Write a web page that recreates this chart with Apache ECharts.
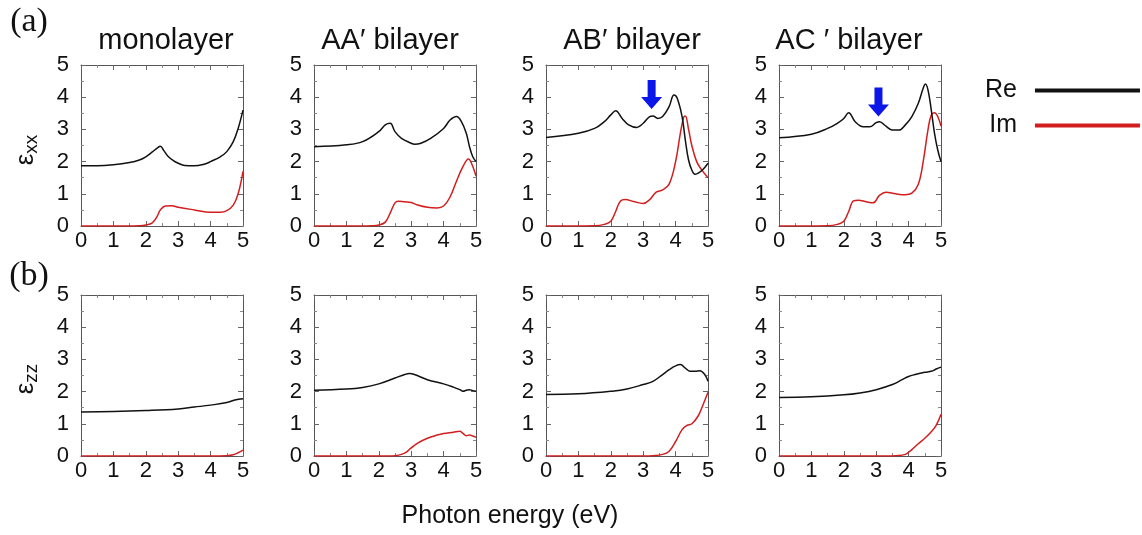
<!DOCTYPE html>
<html>
<head>
<meta charset="utf-8">
<title>dielectric function</title>
<script src="https://cdn.jsdelivr.net/npm/echarts@6/dist/echarts.min.js"></script>
<style>
    html, body { margin: 0; padding: 0; background: #fff; }
    #chart { width: 1142px; height: 535px; }
</style>
</head>
<body>
<div id="chart"></div>
<script>
// panel titles and tick labels
const panelTitles = ['monolayer', 'AA\u2032 bilayer', 'AB\u2032 bilayer', 'AC \u2032 bilayer'];
const tickValues = [0, 1, 2, 3, 4, 5];

// eps_xx, [photon energy (eV), value]
const monoXX_re = [[0,1.87],[0.5,1.87],[1,1.9],[1.5,1.97],[1.8,2.05],[2,2.15],[2.2,2.3],[2.35,2.42],[2.45,2.48],[2.55,2.35],[2.7,2.15],[2.85,2.03],[3,1.95],[3.2,1.88],[3.5,1.87],[3.8,1.92],[4,2.0],[4.3,2.15],[4.5,2.31],[4.7,2.62],[4.85,3.03],[5,3.6]];
const monoXX_im = [[0,0],[1,0],[1.8,0.01],[2,0.03],[2.2,0.1],[2.35,0.3],[2.45,0.5],[2.6,0.62],[2.8,0.63],[3,0.58],[3.5,0.5],[4,0.43],[4.3,0.43],[4.5,0.48],[4.7,0.65],[4.85,1.0],[5,1.7]];
const aaXX_re = [[0,2.46],[1,2.52],[1.5,2.62],[2,2.93],[2.2,3.14],[2.35,3.19],[2.5,2.93],[2.7,2.72],[3,2.57],[3.1,2.54],[3.3,2.57],[3.6,2.72],[4,3.03],[4.2,3.29],[4.4,3.4],[4.55,3.24],[4.7,2.88],[4.8,2.46],[4.9,2.15],[5,2.0]];
const aaXX_im = [[0,0],[1,0],[1.8,0.01],[2,0.03],[2.2,0.12],[2.35,0.4],[2.5,0.72],[2.6,0.77],[2.8,0.75],[3,0.73],[3.2,0.65],[3.5,0.58],[3.8,0.56],[4,0.62],[4.2,0.9],[4.4,1.4],[4.6,1.85],[4.77,2.08],[4.88,1.9],[5,1.55]];
const abXX_re = [[0,2.75],[1,2.88],[1.5,3.03],[1.8,3.24],[2,3.45],[2.15,3.58],[2.35,3.34],[2.55,3.14],[2.8,3.06],[3,3.19],[3.2,3.4],[3.3,3.42],[3.45,3.34],[3.6,3.4],[3.8,3.71],[3.95,4.07],[4.05,3.97],[4.2,3.4],[4.3,2.67],[4.4,2.05],[4.5,1.74],[4.6,1.61],[4.7,1.64],[4.85,1.76],[5,1.95]];
const abXX_im = [[0,0],[1.5,0.01],[1.8,0.05],[2,0.15],[2.15,0.45],[2.3,0.78],[2.45,0.82],[2.7,0.76],[3,0.7],[3.2,0.82],[3.4,1.05],[3.6,1.12],[3.8,1.3],[4,2.0],[4.15,2.9],[4.25,3.38],[4.3,3.42],[4.4,3.0],[4.5,2.5],[4.65,2.0],[4.8,1.75],[5,1.5]];
const acXX_re = [[0,2.74],[1,2.85],[1.5,3.03],[1.8,3.19],[2,3.34],[2.15,3.52],[2.35,3.24],[2.6,3.08],[2.8,3.08],[3,3.21],[3.1,3.24],[3.3,3.1],[3.5,2.98],[3.7,2.98],[3.9,3.14],[4.1,3.4],[4.3,3.81],[4.45,4.28],[4.52,4.41],[4.6,4.22],[4.7,3.6],[4.8,2.88],[4.9,2.36],[5,2.0]];
const acXX_im = [[0,0],[1.5,0.01],[1.8,0.05],[2,0.15],[2.15,0.45],[2.3,0.78],[2.45,0.8],[2.7,0.75],[2.9,0.72],[3.1,0.95],[3.3,1.05],[3.6,1.0],[3.9,0.97],[4.1,1.02],[4.3,1.3],[4.45,2.0],[4.6,3.0],[4.7,3.45],[4.8,3.52],[4.9,3.4],[5,3.1]];

// eps_zz
const monoZZ_re = [[0,1.37],[1,1.38],[2,1.41],[3,1.46],[3.5,1.52],[4,1.58],[4.5,1.66],[4.75,1.74],[5,1.78]];
const monoZZ_im = [[0,0],[4,0],[4.5,0.01],[4.7,0.04],[4.85,0.1],[5,0.18]];
const aaZZ_re = [[0,2.04],[1,2.08],[1.5,2.13],[2,2.24],[2.5,2.42],[2.8,2.53],[2.95,2.56],[3.1,2.53],[3.5,2.37],[4,2.24],[4.3,2.14],[4.5,2.06],[4.6,2.01],[4.7,2.04],[4.8,2.06],[4.9,2.03],[5,2.01]];
const aaZZ_im = [[0,0],[2.3,0],[2.5,0.01],[2.7,0.05],[2.85,0.12],[3,0.25],[3.2,0.4],[3.5,0.55],[3.8,0.65],[4,0.7],[4.3,0.74],[4.5,0.77],[4.6,0.7],[4.7,0.63],[4.8,0.65],[4.9,0.62],[5,0.58]];
const abZZ_re = [[0,1.91],[1,1.93],[2,2.01],[2.5,2.08],[3,2.22],[3.3,2.32],[3.6,2.53],[3.8,2.68],[4,2.8],[4.15,2.84],[4.3,2.73],[4.45,2.63],[4.6,2.63],[4.75,2.65],[4.9,2.53],[5,2.32]];
const abZZ_im = [[0,0],[3,0],[3.3,0.01],[3.6,0.05],[3.8,0.15],[4,0.45],[4.2,0.82],[4.35,0.95],[4.5,1.0],[4.7,1.25],[4.85,1.6],[5,1.98]];
const acZZ_re = [[0,1.82],[1,1.84],[2,1.9],[2.5,1.96],[3,2.06],[3.5,2.22],[3.8,2.37],[4,2.47],[4.2,2.53],[4.5,2.6],[4.7,2.63],[4.85,2.7],[5,2.76]];
const acZZ_im = [[0,0],[3.3,0],[3.6,0.01],[3.9,0.05],[4.1,0.2],[4.3,0.38],[4.5,0.55],[4.7,0.75],[4.85,0.95],[5,1.3]];

// blue arrows (centre, in data units)
const arrowAB = [3.26, 4.08];
const arrowAC = [3.07, 3.85];

const panels = [
    { re: monoXX_re, im: monoXX_im }, { re: aaXX_re, im: aaXX_im },
    { re: abXX_re, im: abXX_im, arrow: arrowAB }, { re: acXX_re, im: acXX_im, arrow: arrowAC },
    { re: monoZZ_re, im: monoZZ_im }, { re: aaZZ_re, im: aaZZ_im },
    { re: abZZ_re, im: abZZ_im }, { re: acZZ_re, im: acZZ_im }
];

const FONT = '"Liberation Sans", Arial, sans-serif';
const SERIF = '"Liberation Serif", "Times New Roman", serif';
const colLeft = [81, 314, 546, 779];
const rowTop = [65, 295];
const boxW = 162, boxH = 161;
const RED = '#d21e1e';
const arrowPath = 'path://M6.5,0 L14.5,0 L14.5,17 L21,17 L10.5,29 L0,17 L6.5,17 Z';

const grids = [], xAxes = [], yAxes = [], series = [];

panels.forEach((p, i) => {
    const col = i % 4, row = Math.floor(i / 4);
    grids.push({ left: colLeft[col], top: rowTop[row], width: boxW, height: boxH });

    const axisLine = { show: true, onZero: false, lineStyle: { color: '#555', width: 1 } };
    const tick = { show: true, inside: true, length: 5, lineStyle: { color: '#666' } };
    const minor = { show: true, splitNumber: 2, length: 3, lineStyle: { color: '#888' } };
    const base = { type: 'value', gridIndex: i, min: 0, max: 5, interval: 1,
        axisLine, axisTick: tick, minorTick: minor, splitLine: { show: false } };

    // bottom + top x axes
    xAxes.push(Object.assign({}, base, {
        axisLabel: { fontSize: 22, fontFamily: FONT, color: '#111', margin: 4 }
    }));
    xAxes.push(Object.assign({}, base, { position: 'top', axisLabel: { show: false } }));
    // left + right y axes
    yAxes.push(Object.assign({}, base, {
        axisLabel: { fontSize: 22, fontFamily: FONT, color: '#111', margin: 12 }
    }));
    yAxes.push(Object.assign({}, base, { position: 'right', axisLabel: { show: false } }));

    const common = {
        type: 'line', xAxisIndex: 2 * i, yAxisIndex: 2 * i,
        showSymbol: false, smooth: 0.4, silent: true
    };
    const reSeries = Object.assign({}, common, {
        name: 'Re', data: p.re, color: '#111', lineStyle: { color: '#111', width: 1.5 }, z: 3
    });
    if (p.arrow) {
        reSeries.markPoint = {
            symbol: arrowPath, symbolSize: [21, 29], silent: true,
            itemStyle: { color: '#0b16e8' }, label: { show: false },
            data: [{ coord: p.arrow }]
        };
    }
    series.push(Object.assign({}, common, {
        name: 'Im', data: p.im, color: RED, lineStyle: { color: RED, width: 1.5 }, z: 2
    }));
    series.push(reSeries);
});

// texts: titles, panel letters, axis names
const graphic = [];
panelTitles.forEach((t, c) => {
    graphic.push({
        type: 'text', x: colLeft[c] + boxW / 2 + [4, -5, 5, -11][c], y: 41,
        style: { text: t, fontSize: 29, fontFamily: FONT, fill: '#111', align: 'center', verticalAlign: 'middle' }
    });
});
graphic.push({ type: 'text', x: 29, y: 22,
    style: { text: '(a)', fontSize: 34, fontFamily: SERIF, fill: '#111', align: 'center', verticalAlign: 'middle' } });
graphic.push({ type: 'text', x: 29, y: 276,
    style: { text: '(b)', fontSize: 34, fontFamily: SERIF, fill: '#111', align: 'center', verticalAlign: 'middle' } });

const epsRich = {
    e: { fontSize: 26, fontFamily: FONT, fill: '#111', color: '#111' },
    s: { fontSize: 19, fontFamily: FONT, fill: '#111', color: '#111', padding: [12, 0, 0, 0] }
};
graphic.push({ type: 'text', x: 26, y: 150, rotation: Math.PI / 2,
    style: { text: '{e|\u03b5}{s|xx}', rich: epsRich, align: 'center', verticalAlign: 'middle' } });
graphic.push({ type: 'text', x: 26, y: 379, rotation: Math.PI / 2,
    style: { text: '{e|\u03b5}{s|zz}', rich: epsRich, align: 'center', verticalAlign: 'middle' } });
graphic.push({ type: 'text', x: 510, y: 516,
    style: { text: 'Photon energy (eV)', fontSize: 25, fontFamily: FONT, fill: '#111', align: 'center', verticalAlign: 'middle' } });

const myChart = echarts.init(document.getElementById('chart'), null, { renderer: 'canvas' });
myChart.setOption({
    backgroundColor: '#fff',
    animation: false,
    grid: grids,
    xAxis: xAxes,
    yAxis: yAxes,
    legend: {
        data: ['Re', 'Im'], orient: 'vertical', left: 980, top: 73,
        align: 'right', icon: 'rect', itemWidth: 105, itemHeight: 4, itemGap: 10,
        selectedMode: false,
        textStyle: { fontSize: 25, fontFamily: FONT, color: '#111', padding: [0, 13, 0, 0] }
    },
    graphic: graphic,
    series: series
});
</script>
</body>
</html>
